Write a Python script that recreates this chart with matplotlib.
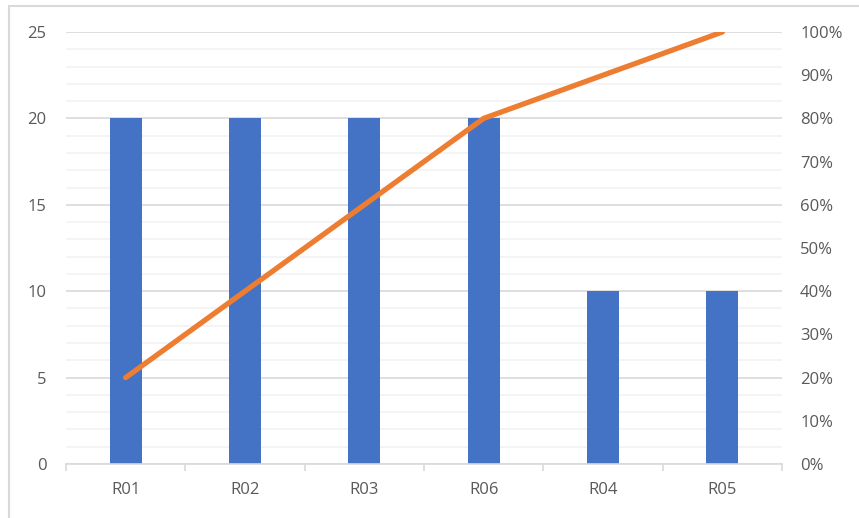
import matplotlib.pyplot as plt
import numpy as np
from matplotlib.ticker import MultipleLocator, PercentFormatter
from matplotlib.patches import Rectangle

plt.rcParams['font.family'] = ['Open Sans', 'DejaVu Sans']

# data
cats = ['R01', 'R02', 'R03', 'R06', 'R04', 'R05']
counts = [20, 20, 20, 20, 10, 10]
cum_pct = [0.2, 0.4, 0.6, 0.8, 0.9, 1.0]

fig = plt.figure(figsize=(8.59, 5.18), dpi=100)
# outer frame of the chart
fig.patches.append(Rectangle((9/859, -0.1), 1.2, 1 - 6/518 + 0.1, transform=fig.transFigure,
                             fill=False, edgecolor='#d9d9d9', linewidth=1.5))
ax = fig.add_axes([66/859, 1 - 464/518, (782 - 66)/859, (464 - 32)/518])
x = np.arange(len(cats))

ax.set_ylim(0, 25)
ax.set_xlim(-0.5, len(cats) - 0.5)
ax.yaxis.set_major_locator(MultipleLocator(5))
ax.yaxis.set_minor_locator(MultipleLocator(1))
ax.grid(axis='y', which='minor', color='#f2f2f2', linewidth=1.2)
ax.grid(axis='y', which='major', color='#d9d9d9', linewidth=1.2)
ax.set_axisbelow(True)

ax.bar(x, counts, width=0.27, color='#4472C4', zorder=2)

for s in ['top', 'right', 'left']:
    ax.spines[s].set_visible(False)
ax.spines['bottom'].set_color('#d9d9d9')
ax.spines['bottom'].set_linewidth(1.2)

ax.set_xticks(x)
ax.set_xticklabels(cats)
ax.set_xticks(np.arange(-0.5, len(cats)), minor=True)
ax.tick_params(axis='x', which='major', length=0, pad=13, labelsize=12, labelcolor='#595959')
ax.tick_params(axis='x', which='minor', length=5, color='#d9d9d9', width=1.2)
ax.tick_params(axis='y', which='both', length=0, pad=14, labelsize=12, labelcolor='#595959')

ax2 = ax.twinx()
ax2.set_ylim(0, 1)
ax2.yaxis.set_major_locator(MultipleLocator(0.1))
ax2.yaxis.set_major_formatter(PercentFormatter(1.0, decimals=0))
ax2.tick_params(axis='y', length=0, pad=13, labelsize=12, labelcolor='#595959')
for s in ax2.spines.values():
    s.set_visible(False)
ax2.plot(x, cum_pct, color='#ED7D31', linewidth=3.8, solid_capstyle='round', zorder=3)

fig.savefig('out.png', dpi=100)
